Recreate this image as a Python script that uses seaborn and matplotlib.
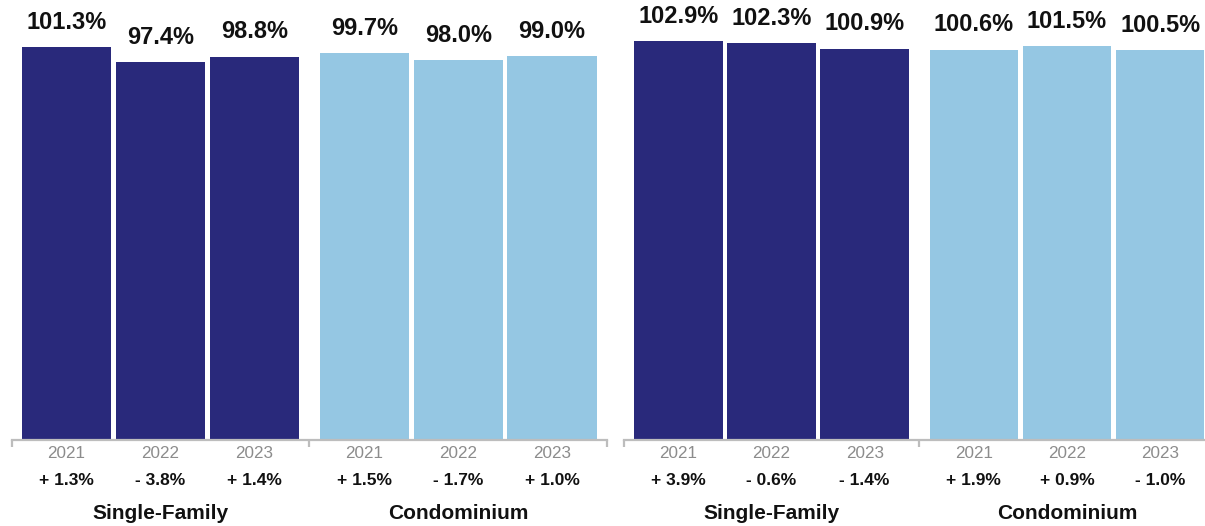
import pandas as pd
import numpy as np
import matplotlib
matplotlib.use("Agg")
import matplotlib.pyplot as plt
import seaborn as sns

# DATA
years = ["2021", "2022", "2023"]
groups = ["Single-Family", "Condominium"]
left_values = [101.3, 97.4, 98.8, 99.7, 98.0, 99.0]
left_changes = ["+ 1.3%", "- 3.8%", "+ 1.4%", "+ 1.5%", "- 1.7%", "+ 1.0%"]
right_values = [102.9, 102.3, 100.9, 100.6, 101.5, 100.5]
right_changes = ["+ 3.9%", "- 0.6%", "- 1.4%", "+ 1.9%", "+ 0.9%", "- 1.0%"]

DARK = "#29297b"
LIGHT = "#95c7e3"
LINE = "#bdbdbd"

sns.set_style("white")
plt.rcParams["font.family"] = ["Liberation Sans", "DejaVu Sans"]

fig = plt.figure(figsize=(12.05, 5.26), dpi=100)
ax_h = 440 / 526
ax_b = 1 - ax_h
ax1 = fig.add_axes([11.5 / 1205, ax_b, 595.5 / 1205, ax_h])
ax2 = fig.add_axes([623.75 / 1205, ax_b, 591 / 1205, ax_h])


def draw_panel(ax, values, changes):
    df = pd.DataFrame({
        "group": [g for g in groups for _ in years],
        "year": years * len(groups),
        "value": values,
    })
    sns.barplot(data=df, x="group", y="value", hue="year", order=groups,
                hue_order=years, width=0.946, gap=0.05, legend=False,
                saturation=1, ax=ax)
    ax.set_ylim(0, 113.4)
    ax.set_xlim(-0.5, 1.5)

    # recolour by group, collect bar centres
    centres = {}
    for yi, cont in enumerate(ax.containers):
        for gi, bar in enumerate(cont):
            bar.set_facecolor(DARK if gi == 0 else LIGHT)
            bar.set_edgecolor("none")
            centres[(gi, yi)] = bar.get_x() + bar.get_width() / 2
        ax.bar_label(cont, fmt="%.1f%%", padding=9.5, fontsize=17,
                     fontweight="bold", color="#111111")

    tr = ax.get_xaxis_transform()
    for gi, g in enumerate(groups):
        for yi, y in enumerate(years):
            x = centres[(gi, yi)]
            ax.text(x, -0.03, y, transform=tr, ha="center", va="center",
                    fontsize=12.3, color="#8c8c8c")
            ax.text(x, -0.092, changes[gi * 3 + yi], transform=tr,
                    ha="center", va="center", fontsize=12.5,
                    fontweight="bold", color="#111111")
        ax.text(gi, -0.167, g, transform=tr, ha="center", va="center",
                fontsize=15, fontweight="bold", color="#111111")

    for s in ["top", "right", "left"]:
        ax.spines[s].set_visible(False)
    ax.spines["bottom"].set_color(LINE)
    ax.spines["bottom"].set_linewidth(1.6)
    ax.set_yticks([])
    ax.set_xticks([])
    ax.set_xticks([-0.5, 0.5, 1.5], minor=True)
    ax.tick_params(axis="x", which="minor", bottom=True, direction="out",
                   length=5, width=1.6, color=LINE, labelbottom=False)
    ax.set_xlabel("")
    ax.set_ylabel("")


draw_panel(ax1, left_values, left_changes)
draw_panel(ax2, right_values, right_changes)

plt.savefig("out.png", dpi=100)
